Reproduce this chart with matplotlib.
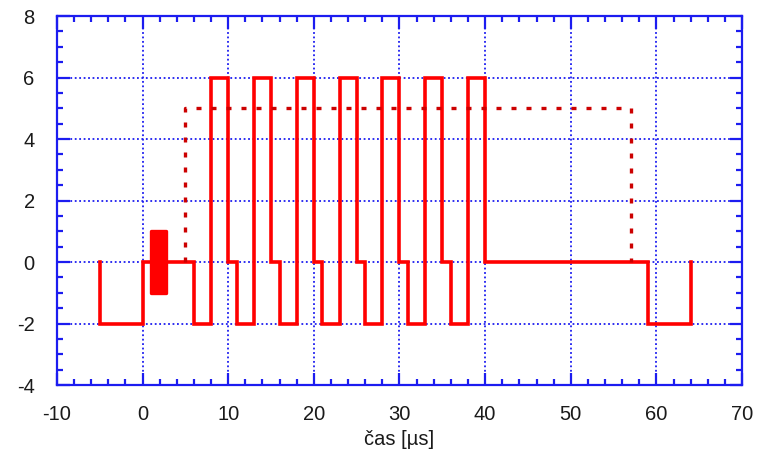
import numpy as np
import matplotlib.pyplot as plt
from matplotlib.ticker import MultipleLocator

# signal edges (steps-post): time [us] and level after each edge
sig_t = [-5, -5, 0, 6, 8, 10, 11, 13, 15, 16, 18, 20, 21, 23, 25, 26, 28, 30,
         31, 33, 35, 36, 38, 40, 59, 64]
sig_v = [0, -2, 0, -2, 6, 0, -2, 6, 0, -2, 6, 0, -2, 6, 0, -2, 6, 0,
         -2, 6, 0, -2, 6, 0, -2, 0]

# dense burst near the start (drawn as a filled block)
burst_t = [1.0, 2.7]
burst_lo = -1
burst_hi = 1

# dotted envelope
ref_t = [5, 5, 57, 57]
ref_v = [0, 5, 5, 0]

x_ticks = [-10, 0, 10, 20, 30, 40, 50, 60, 70]
y_ticks = [-4, -2, 0, 2, 4, 6, 8]

blue = '#1c1cf0'
red = '#ff0000'
dark_red = '#cc0000'

plt.rcParams['font.family'] = ['Liberation Sans', 'DejaVu Sans']
plt.rcParams['lines.scale_dashes'] = False
plt.rcParams['axes.unicode_minus'] = False

fig = plt.figure(figsize=(7.58, 4.59), dpi=100)
ax = fig.add_axes([0.075, 0.161, 0.904, 0.804])

ax.fill_between(burst_t, burst_lo, burst_hi, color=red, lw=2.4, edgecolor=red)
ax.plot(sig_t, sig_v, drawstyle='steps-post', color=red, lw=2.6,
        solid_joinstyle='miter')
ax.plot(ref_t, ref_v, color=dark_red, lw=2.4, linestyle=(0, (3.6, 7.2)))

ax.set_xlim(-10, 70)
ax.set_ylim(-4, 8)
ax.set_xticks(x_ticks)
ax.set_yticks(y_ticks)
ax.xaxis.set_minor_locator(MultipleLocator(2))
ax.yaxis.set_minor_locator(MultipleLocator(0.5))

ax.grid(True, which='major', color=blue, lw=1.3, linestyle=(0, (1.3, 1.9)))
ax.set_axisbelow(True)

for s in ax.spines.values():
    s.set_color(blue)
    s.set_linewidth(1.6)

ax.tick_params(which='both', direction='in', top=True, right=True, color=blue,
               labelsize=14.5, labelcolor='#1a1a1a')
ax.tick_params(which='major', length=9, width=1.6)
ax.tick_params(which='minor', length=4.5, width=1.6)
ax.tick_params(axis='x', which='major', pad=14)
ax.tick_params(axis='y', which='major', pad=16)

ax.set_xlabel('čas [µs]', fontsize=14.5, color='#1a1a1a', labelpad=5)

fig.savefig('out.png', dpi=100)
